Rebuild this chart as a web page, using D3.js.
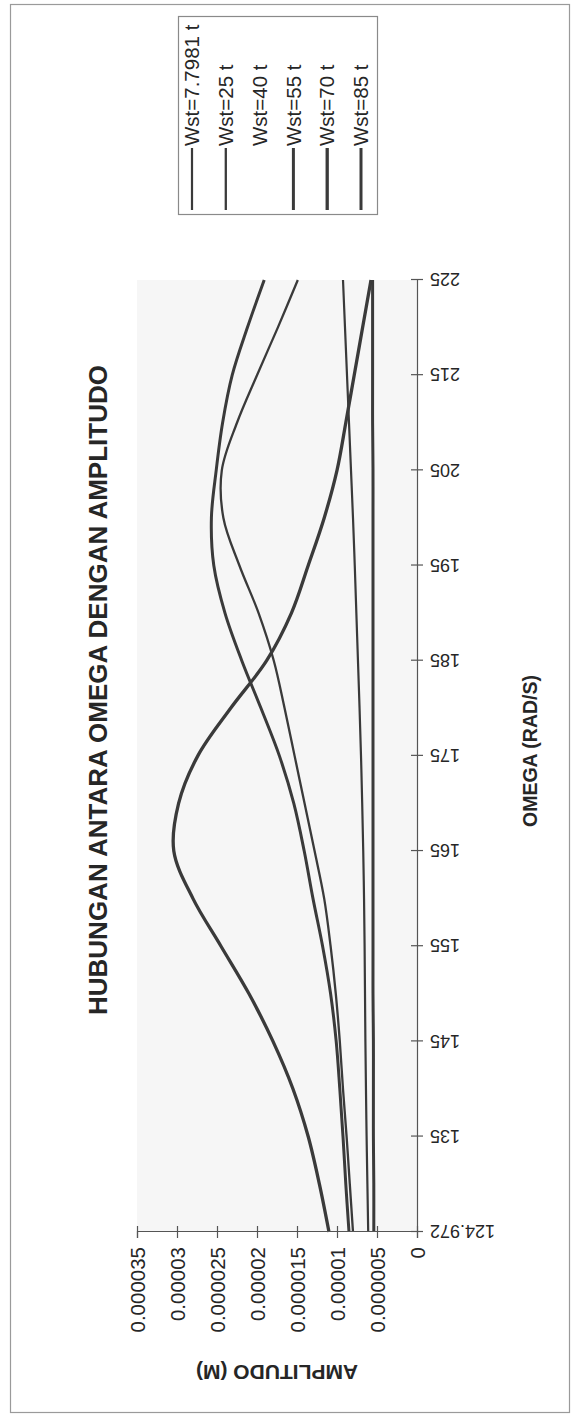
<!DOCTYPE html>
<html><head><meta charset="utf-8">
<script src="https://cdn.jsdelivr.net/npm/d3@7/dist/d3.min.js"></script>
<style>html,body{margin:0;padding:0;background:#fff;} svg{display:block;}</style>
</head><body>
<svg id="c" width="579" height="1418"></svg>
<script>
// ---- data ----
const omega = [124.972,130,135,140,145,150,155,160,165,170,175,180,185,190,195,200,205,210,215,220,225];
const wst7798 = [6.10e-6,6.20e-6,6.30e-6,6.38e-6,6.45e-6,6.50e-6,6.55e-6,6.62e-6,6.72e-6,6.85e-6,7.00e-6,7.18e-6,7.38e-6,7.58e-6,7.78e-6,8.00e-6,8.25e-6,8.50e-6,8.75e-6,9.00e-6,9.25e-6];
const wst25   = [8.00e-6,8.40e-6,8.80e-6,9.25e-6,9.65e-6,1.015e-5,1.08e-5,1.16e-5,1.28e-5,1.405e-5,1.53e-5,1.655e-5,1.79e-5,1.98e-5,2.22e-5,2.42e-5,2.44e-5,2.25e-5,2.00e-5,1.74e-5,1.49e-5];
const wst40   = []; // no visible line in the reference
const wst55   = [8.50e-6,8.90e-6,9.25e-6,9.65e-6,1.01e-5,1.08e-5,1.18e-5,1.30e-5,1.41e-5,1.54e-5,1.72e-5,1.95e-5,2.19e-5,2.40e-5,2.54e-5,2.57e-5,2.51e-5,2.43e-5,2.31e-5,2.12e-5,1.91e-5];
const wst70   = [1.10e-5,1.22e-5,1.36e-5,1.55e-5,1.80e-5,2.10e-5,2.45e-5,2.80e-5,3.04e-5,2.98e-5,2.74e-5,2.33e-5,1.88e-5,1.57e-5,1.36e-5,1.16e-5,1.00e-5,8.90e-6,7.85e-6,6.80e-6,5.75e-6];
const wst85   = [5.40e-6,5.40e-6,5.45e-6,5.45e-6,5.45e-6,5.50e-6,5.50e-6,5.50e-6,5.50e-6,5.50e-6,5.50e-6,5.50e-6,5.50e-6,5.50e-6,5.50e-6,5.50e-6,5.50e-6,5.55e-6,5.55e-6,5.55e-6,5.55e-6];
const seriesNames = ["Wst=7.7981 t","Wst=25 t","Wst=40 t","Wst=55 t","Wst=70 t","Wst=85 t"];
const seriesValues = [wst7798, wst25, wst40, wst55, wst70, wst85];
const seriesWidths = [2.2, 2.3, 0, 3.0, 3.3, 3.0];
const xTicks = [124.972,135,145,155,165,175,185,195,205,215,225];
const xTickLabels = ["124.972","135","145","155","165","175","185","195","205","215","225"];
const yTicks = [0,0.000005,0.00001,0.000015,0.00002,0.000025,0.00003,0.000035];
const yTickLabels = ["0","0.000005","0.00001","0.000015","0.00002","0.000025","0.00003","0.000035"];

const W = 1418, H = 579;           // landscape chart, rotated onto the page
const FONT = "'Liberation Sans', Arial, sans-serif";
const INK = "#262626", LINE = "#3a3a3a";

const svg = d3.select("#c");
// outer frame (page coordinates)
svg.append("rect").attr("x",10.5).attr("y",4.5).attr("width",559).attr("height",1408)
  .attr("fill","none").attr("stroke","#9a9a9a").attr("stroke-width",1.2);

const g = svg.append("g").attr("transform", `translate(0,${W}) rotate(-90)`);

const x = d3.scaleLinear().domain([124.972, 225]).range([186, 1138]);
const y = d3.scaleLinear().domain([0, 0.000035]).range([417, 137]);

// plot area (light stipple tone)
g.append("rect").attr("x",x(124.972)).attr("y",y(0.000035))
  .attr("width",x(225)-x(124.972)).attr("height",y(0)-y(0.000035))
  .attr("fill","#f6f6f6");

// series
const line = d3.line().x(d=>x(d[0])).y(d=>y(d[1])).curve(d3.curveCatmullRom.alpha(0.5));
seriesValues.forEach((vals,i)=>{
  if (!vals.length) return;
  g.append("path").datum(omega.map((o,k)=>[o, vals[k]]))
    .attr("d", line).attr("fill","none").attr("stroke",LINE)
    .attr("stroke-width",seriesWidths[i]).attr("stroke-linejoin","round");
});

// x axis (value 0)
const xAxis = g.append("g").attr("transform",`translate(0,${y(0)})`)
  .call(d3.axisBottom(x).tickValues(xTicks).tickFormat((d,i)=>xTickLabels[i]).tickSizeOuter(0).tickSize(6));
xAxis.select(".domain").attr("stroke","#555").attr("stroke-width",1.2);
xAxis.selectAll(".tick line").attr("y1",-6).attr("y2",6).attr("stroke","#555").attr("stroke-width",1.2);
xAxis.selectAll(".tick text").attr("transform","rotate(-90)").attr("x",-13).attr("y",0).attr("dy","0.35em")
  .attr("text-anchor","end").attr("font-family",FONT).attr("font-size",18).attr("fill",INK);

// y axis
const yAxis = g.append("g").attr("transform",`translate(${x(124.972)},0)`)
  .call(d3.axisLeft(y).tickValues(yTicks).tickFormat((d,i)=>yTickLabels[i]).tickSizeOuter(0).tickSize(6));
yAxis.select(".domain").attr("stroke","#555").attr("stroke-width",1.2);
yAxis.selectAll(".tick line").attr("x1",-6).attr("x2",6).attr("stroke","#555").attr("stroke-width",1.2);
yAxis.selectAll(".tick text").attr("x",-15).attr("dy","0.35em")
  .attr("font-family",FONT).attr("font-size",20.5).attr("fill",INK);

// titles
g.append("text").attr("x",728).attr("y",107).attr("text-anchor","middle")
  .attr("font-family",FONT).attr("font-weight","bold").attr("font-size",26).attr("fill",INK)
  .text("HUBUNGAN ANTARA OMEGA DENGAN AMPLITUDO");
g.append("text").attr("x",667).attr("y",537).attr("text-anchor","middle")
  .attr("font-family",FONT).attr("font-weight","bold").attr("font-size",19.5).attr("fill",INK)
  .text("OMEGA (RAD/S)");
g.append("text").attr("transform",`translate(53,${(y(0)+y(0.000035))/2}) rotate(-90)`)
  .attr("text-anchor","middle")
  .attr("font-family",FONT).attr("font-weight","bold").attr("font-size",21).attr("fill",INK)
  .text("AMPLITUDO (M)");

// legend
const lg = g.append("g");
lg.append("rect").attr("x",1203.5).attr("y",178.5).attr("width",198).attr("height",199)
  .attr("fill","#fff").attr("stroke","#8a8a8a").attr("stroke-width",1.2);
seriesNames.forEach((name,i)=>{
  const cy = 192 + i*33.8;
  if (seriesValues[i].length)
    lg.append("line").attr("x1",1208).attr("x2",1270).attr("y1",cy).attr("y2",cy)
      .attr("stroke",LINE).attr("stroke-width",Math.max(2,seriesWidths[i]));
  lg.append("text").attr("x",1272).attr("y",cy).attr("dy","0.35em")
    .attr("font-family",FONT).attr("font-size",20.5).attr("fill",INK).text(name);
});
</script>
</body></html>
